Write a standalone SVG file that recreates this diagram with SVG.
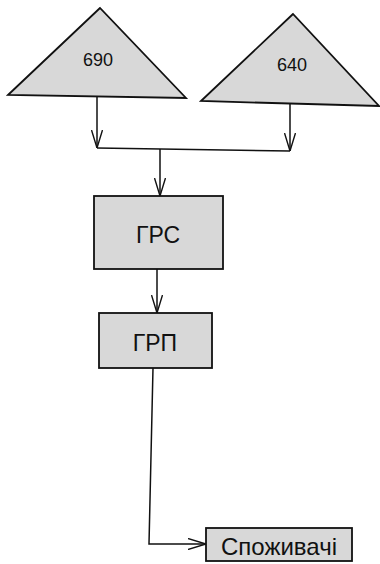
<svg xmlns="http://www.w3.org/2000/svg" width="380" height="564" viewBox="0 0 380 564">
<style>
.shape{fill:#d8d8d8;stroke:#111;stroke-width:1.8}
.lbl{font-family:"Liberation Sans",Arial,sans-serif;fill:#111;text-anchor:middle;dominant-baseline:central}
.conn{fill:none;stroke:#111;stroke-width:1.5}
</style>
<defs>
<marker id="arr" viewBox="0 0 18 12" refX="18" refY="6" markerWidth="18" markerHeight="12" markerUnits="userSpaceOnUse" orient="auto">
<path d="M0,0.5 L18,6 L0,11.5" fill="none" stroke="#111" stroke-width="1.4"/>
</marker>
</defs>
<rect width="380" height="564" fill="#fff"/>
<g id="src690">
<polygon class="shape" points="100,8 8,95 186,98"/>
<text class="lbl" x="98" y="60" font-size="18">690</text>
</g>
<g id="src640">
<polygon class="shape" points="293,14 201,101 379,106"/>
<text class="lbl" x="292" y="65" font-size="18">640</text>
</g>
<g id="grs">
<rect class="shape" x="94" y="196" width="129" height="73"/>
<text class="lbl" x="158" y="235" font-size="23">ГРС</text>
</g>
<g id="grp">
<rect class="shape" x="99" y="313" width="113" height="55"/>
<text class="lbl" x="155" y="343" font-size="23">ГРП</text>
</g>
<g id="consumers">
<rect class="shape" x="206" y="528" width="146" height="33"/>
<text class="lbl" x="279" y="546" font-size="24">Споживачі</text>
</g>
<g id="connectors">
<line class="conn" x1="97" y1="97" x2="97" y2="148" marker-end="url(#arr)"/>
<line class="conn" x1="290" y1="104" x2="290" y2="151" marker-end="url(#arr)"/>
<line class="conn" x1="97" y1="148" x2="290" y2="151"/>
<line class="conn" x1="160" y1="149" x2="160" y2="196" marker-end="url(#arr)"/>
<line class="conn" x1="157" y1="269" x2="157" y2="313" marker-end="url(#arr)"/>
<polyline class="conn" points="153,368 149,544 206,544" marker-end="url(#arr)"/>
</g>
</svg>
